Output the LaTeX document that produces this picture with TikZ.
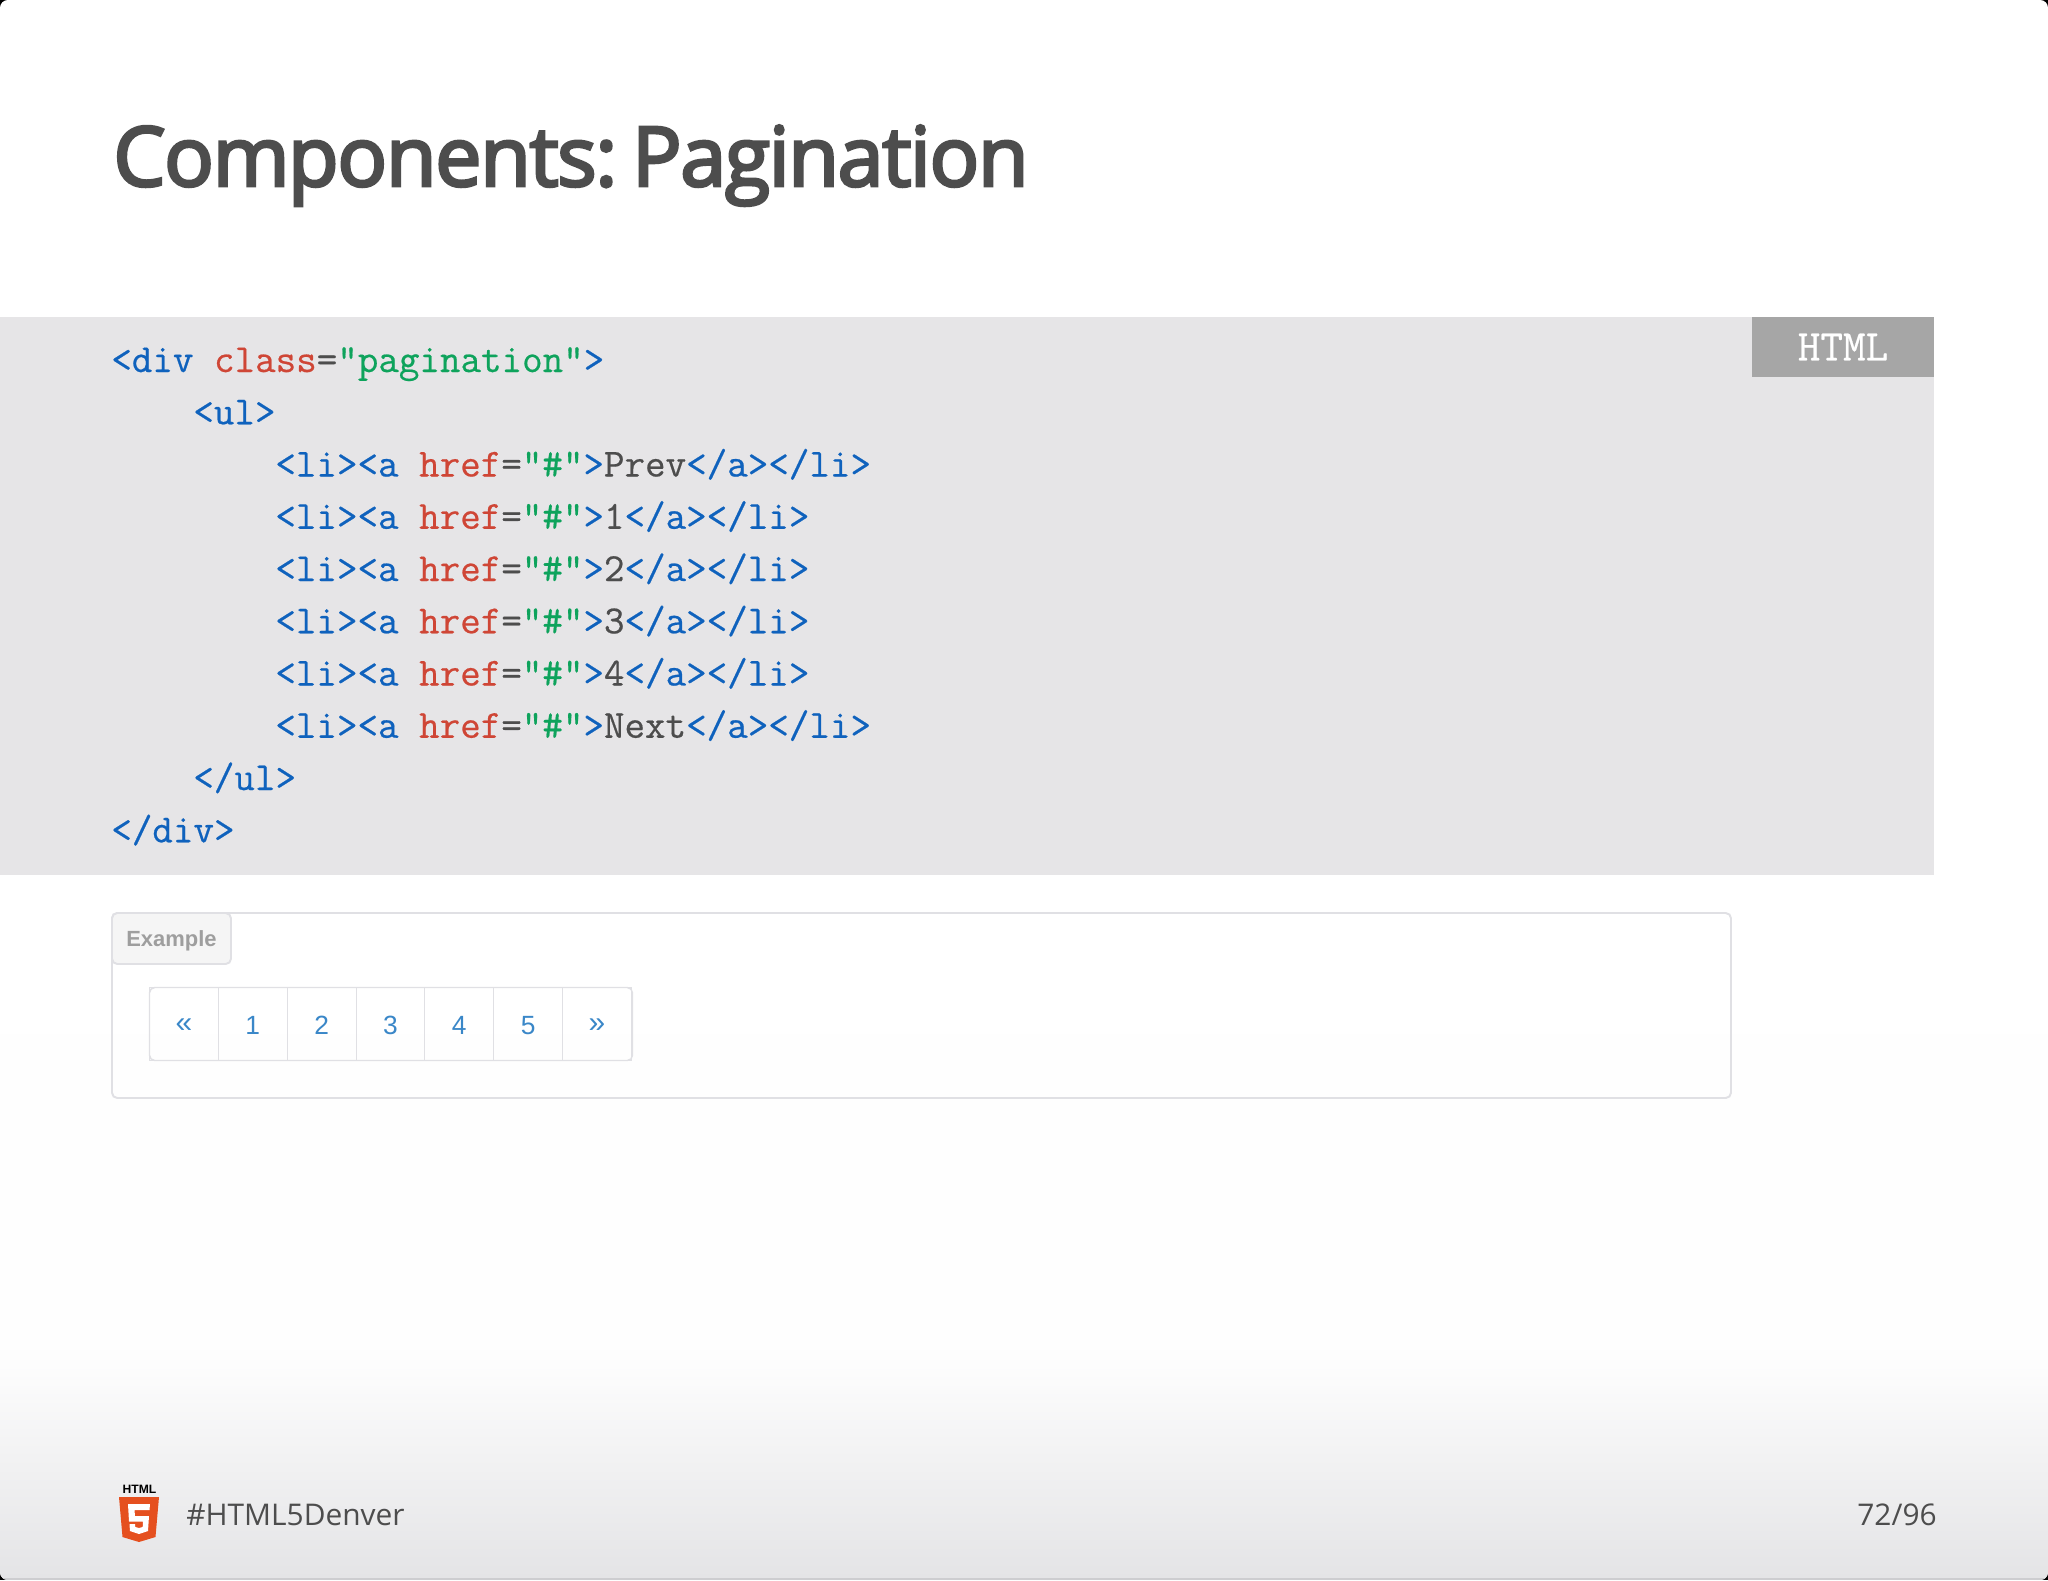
\documentclass[tikz,border=0pt]{standalone}
\usepackage{fontspec}
\setmainfont{Open Sans}
\newfontfamily\titlefont{Open Sans}[FakeBold=3.5, LetterSpace=-1.65, WordSpace=0.4]
\newfontfamily\codefont{Latin Modern Mono}[FakeBold=0.5]
\newfontfamily\pagefont{Liberation Sans}
\usetikzlibrary{positioning}
\definecolor{codeblue}{HTML}{0F62BD}
\definecolor{codered}{HTML}{CF4636}
\definecolor{codegreen}{HTML}{0EA35C}
\definecolor{codegray}{HTML}{4D4D4D}
\definecolor{panel}{HTML}{E6E5E7}
\definecolor{tagfill}{HTML}{A6A6A6}
\definecolor{boxline}{HTML}{E0E0E4}
\definecolor{pagelink}{HTML}{3A87C8}
\definecolor{footfill}{HTML}{E4E4E6}
\definecolor{shieldfill}{HTML}{E5501F}
\newcommand{\tb}[1]{\textcolor{codeblue}{#1}}
\newcommand{\tr}[1]{\textcolor{codered}{#1}}
\newcommand{\tg}[1]{\textcolor{codegreen}{#1}}
\newcommand{\tk}[1]{\textcolor{codegray}{#1}}
\newcommand{\lia}[1]{\tb{<li><a }\tr{href}\tk{=}\tg{"\#"}\tb{>}\tk{#1}\tb{</a></li>}}
\newcommand{\pnum}[1]{\raisebox{-6pt}[0pt][0pt]{#1}}
\newcommand{\parr}[1]{\raisebox{-5pt}[0pt][0pt]{\fontsize{17}{17}\selectfont #1}}
\tikzset{
  codeline/.style={anchor=base west, inner sep=0, font=\codefont\fontsize{22.7}{24}\selectfont},
  pagecell/.style={draw=boxline, line width=0.6pt, minimum width=69.1*0.5669pt, minimum height=73*0.5669pt, inner sep=0, outer sep=0, text=pagelink, font=\pagefont\fontsize{15}{17}\selectfont},
  foot/.style={inner sep=0, text=codegray, font=\fontsize{17}{20}\selectfont}
}
\begin{document}
\begin{tikzpicture}[x=0.02cm, y=-0.02cm]
\useasboundingbox (0,0) rectangle (2048,1580);
\fill[black] (0,0) rectangle (2048,1580);
\fill[white, rounded corners=4.5pt] (0,0) rectangle (2048,1580);
\begin{scope}
\clip[rounded corners=4.5pt] (0,0) rectangle (2048,1580);
\shade[top color=white, bottom color=black!0.6] (0,875) rectangle (2048,1360);
\shade[top color=black!0.6, bottom color=footfill] (0,1360) rectangle (2048,1578);
\draw[boxline!80!gray, line width=0.8pt] (0,1579) -- (2048,1579);
\end{scope}
% Title
\node[anchor=base west, inner sep=0, text=codegray, font=\titlefont\fontsize{47}{50}\selectfont] (title) at (113,186) {Components: Pagination};
% Code
\fill[panel] (0,317) rectangle (1934,875);
\node[fill=tagfill, minimum width=182*0.5669pt, minimum height=60*0.5669pt, inner sep=0, text=white, font=\codefont\fontsize{25}{26}\selectfont] (tag) at (1843,347) {HTML};
\node[codeline] (c1) at (111,372) {\tb{<div }\tr{class}\tk{=}\tg{"pagination"}\tb{>}};
\node[codeline] (c2) at (193,424.25) {\tb{<ul>}};
\node[codeline] (c3) at (275,476.5) {\lia{Prev}};
\node[codeline] (c4) at (275,528.75) {\lia{1}};
\node[codeline] (c5) at (275,581) {\lia{2}};
\node[codeline] (c6) at (275,633.25) {\lia{3}};
\node[codeline] (c7) at (275,685.5) {\lia{4}};
\node[codeline] (c8) at (275,737.75) {\lia{Next}};
\node[codeline] (c9) at (193,790) {\tb{</ul>}};
\node[codeline] (c10) at (111,842.25) {\tb{</div>}};
% Example box
\draw[boxline, line width=1.1pt, rounded corners=3pt] (112,913) rectangle (1731,1098);
\draw[boxline, fill=black!4, line width=1.1pt, rounded corners=3pt] (112,913) rectangle (231,964);
\node[inner sep=0, text=black!38, font=\pagefont\bfseries\fontsize{12.5}{14}\selectfont] (ex) at (171.5,940.5) {Example};
% Pagination
\node[pagecell] (p1) at (184,1024) {\parr{«}};
\node[pagecell, right=0 of p1] (p2) {\pnum{1}};
\node[pagecell, right=0 of p2] (p3) {\pnum{2}};
\node[pagecell, right=0 of p3] (p4) {\pnum{3}};
\node[pagecell, right=0 of p4] (p5) {\pnum{4}};
\node[pagecell, right=0 of p5] (p6) {\pnum{5}};
\node[pagecell, right=0 of p6] (p7) {\parr{»}};
\draw[boxline, line width=0.8pt, rounded corners=3pt] (149.5,987.5) rectangle (632.5,1060.5);
% Footer
\node[inner sep=0, font=\pagefont\bfseries\fontsize{6.9}{7}\selectfont, text=black] (logotext) at (139.5,1489.5) {HTML};
\fill[shieldfill] (119,1497) -- (159,1497) -- (155.5,1537) -- (139,1542) -- (122.5,1537) -- cycle;
\fill[white] (128,1504) -- (150,1504) -- (149.5,1510) -- (134.5,1510) -- (135,1516) -- (149,1516) -- (148,1531) -- (139,1534) -- (130,1531) -- (129.5,1524) -- (135,1524) -- (135.3,1527) -- (139,1528) -- (142.7,1527) -- (143,1521.5) -- (129,1521.5) -- cycle;
\node[foot, anchor=base west] (hash) at (186,1525.5) {\#HTML5Denver};
\node[foot, anchor=base east] (count) at (1937,1525.5) {72/96};
\end{tikzpicture}
\end{document}
